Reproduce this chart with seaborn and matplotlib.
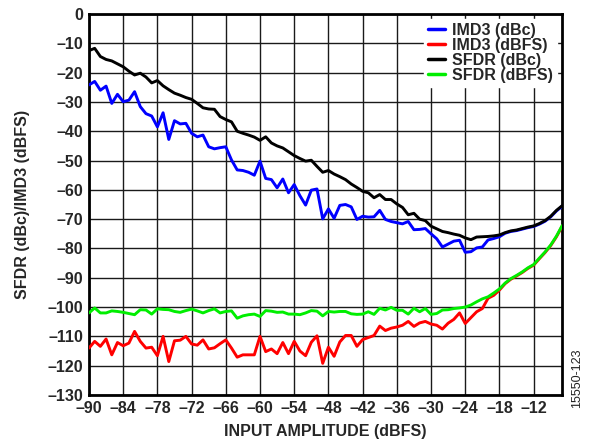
import numpy as np
import pandas as pd
import matplotlib
matplotlib.use("Agg")
import matplotlib.pyplot as plt
import seaborn as sns
from matplotlib.ticker import FuncFormatter

input_dbfs = list(range(-90, -6))  # -90 .. -7

sfdr_dbc = [-12.5, -11.7, -14.5, -15.5, -16.0, -17.0, -18.0, -19.5, -20.8, -20.2,
            -21.5, -23.5, -22.7, -24.5, -25.8, -27.0, -27.7, -28.5, -29.1, -30.5,
            -32.0, -32.4, -32.5, -35.0, -36.0, -36.8, -40.0, -40.7, -41.3, -42.0,
            -43.1, -41.9, -44.0, -45.0, -45.7, -47.0, -48.3, -49.3, -50.2, -49.9,
            -52.0, -54.0, -53.4, -54.6, -55.5, -56.5, -58.0, -59.2, -60.5, -61.0,
            -62.7, -61.6, -63.3, -63.3, -64.8, -66.0, -68.5, -68.0, -70.0, -70.5,
            -72.4, -73.3, -74.2, -74.6, -75.1, -75.5, -76.4, -77.0, -76.1, -76.0,
            -75.9, -75.7, -75.4, -74.6, -74.0, -73.7, -73.2, -72.7, -72.3, -71.5,
            -70.5, -69.0, -67.0, -65.4]

imd3_dbc = [-24.2, -23.0, -26.0, -24.6, -30.5, -27.4, -29.9, -29.4, -26.5, -31.6,
            -34.0, -34.8, -38.5, -33.7, -42.8, -36.4, -37.5, -37.3, -40.7, -41.9,
            -41.3, -45.3, -46.0, -45.6, -45.3, -49.8, -53.2, -53.4, -54.0, -55.0,
            -50.2, -56.1, -56.5, -59.3, -56.3, -61.0, -58.2, -62.0, -65.2, -60.1,
            -59.7, -69.9, -66.5, -69.7, -65.3, -65.0, -65.8, -70.1, -69.0, -69.3,
            -69.2, -67.0, -70.1, -70.8, -71.2, -71.6, -70.8, -73.6, -73.5, -73.2,
            -75.0, -76.7, -79.5, -78.5, -77.5, -77.2, -81.3, -81.1, -79.8, -79.5,
            -77.1, -76.6, -76.0, -74.8, -74.2, -73.9, -73.4, -72.9, -72.5, -71.7,
            -70.7, -69.2, -67.2, -65.6]

imd3_dbfs = [-114.0, -111.7, -113.4, -110.9, -116.3, -112.1, -113.2, -112.3, -108.3, -111.7,
             -114.0, -113.7, -116.6, -110.0, -118.6, -111.5, -111.3, -110.0, -112.6, -113.0,
             -111.2, -114.3, -113.9, -112.5, -111.2, -114.0, -117.1, -116.3, -116.3, -116.3,
             -110.0, -115.2, -114.3, -115.9, -112.1, -115.9, -111.7, -115.0, -116.6, -112.0,
             -109.8, -119.2, -113.7, -116.8, -111.9, -109.7, -109.7, -113.4, -111.1, -110.4,
             -109.7, -106.5, -108.0, -107.2, -106.8, -106.2, -104.9, -106.6, -105.4, -104.9,
             -105.8, -106.2, -107.5, -105.5, -104.2, -102.0, -105.6, -103.6, -101.6, -100.5,
             -97.0, -96.0, -94.2, -92.0, -90.5, -89.4, -88.2, -86.8, -85.7, -83.5,
             -81.4, -79.0, -76.0, -72.4]

sfdr_dbfs = [-102.0, -100.3, -102.0, -102.0, -101.3, -101.5, -101.8, -102.2, -102.6, -100.9,
             -101.0, -102.4, -100.6, -100.8, -100.9, -101.5, -101.8, -101.2, -100.7, -101.3,
             -102.0, -101.2, -100.6, -102.0, -101.5, -101.3, -103.8, -103.0, -102.6, -102.4,
             -103.2, -101.2, -101.4, -101.8, -101.7, -102.4, -102.4, -102.6, -102.0, -101.2,
             -101.4, -103.0, -101.5, -101.7, -101.5, -101.5, -102.3, -102.5, -102.4, -101.6,
             -102.5, -100.4, -101.0, -100.1, -101.1, -101.1, -102.4, -100.4, -101.6, -100.5,
             -102.5, -102.2, -101.0, -100.9, -100.5, -100.3, -100.0, -99.3, -98.2, -97.2,
             -96.5, -95.2, -93.8, -91.8, -90.3, -89.2, -88.0, -86.6, -85.5, -83.3,
             -81.2, -78.8, -75.8, -72.2]

series_names = ["IMD3 (dBc)", "IMD3 (dBFS)", "SFDR (dBc)", "SFDR (dBFS)"]
series_colors = ["#0000ff", "#ff0000", "#000000", "#00ee00"]
x_ticks = list(range(-90, -11, 6))
y_ticks = list(range(-130, 1, 10))

df = pd.concat([
    pd.DataFrame({"x": input_dbfs, "y": vals, "series": name})
    for name, vals in zip(series_names, [imd3_dbc, imd3_dbfs, sfdr_dbc, sfdr_dbfs])
])

sns.set_style("white")
plt.rcParams["font.family"] = ["Liberation Sans", "DejaVu Sans"]
plt.rcParams["font.weight"] = "bold"

FS = 11.5

fig = plt.figure(figsize=(5.9, 4.44), dpi=100)
ax = fig.add_axes([0.1508, 0.1104, 0.802, 0.858])

sns.lineplot(data=df, x="x", y="y", hue="series", hue_order=series_names,
             palette=dict(zip(series_names, series_colors)), linewidth=2.1,
             ax=ax, legend=True, zorder=3)

ax.set_xlim(-90, -7)
ax.set_ylim(-130, 0)
ax.set_xticks(x_ticks)
ax.set_yticks(y_ticks)
ax.grid(True, which="major", color="#1a1a1a", linewidth=1.0, zorder=0)
ax.set_axisbelow(True)

fmt = FuncFormatter(lambda v, p: ("\u2013%d" % abs(v)) if v < 0 else "%d" % v)
ax.xaxis.set_major_formatter(fmt)
ax.yaxis.set_major_formatter(fmt)
ax.tick_params(axis="both", length=0, labelsize=FS, pad=4)
for lbl in ax.get_xticklabels() + ax.get_yticklabels():
    lbl.set_fontweight("bold")

for sp in ax.spines.values():
    sp.set_visible(True)
    sp.set_color("black")
    sp.set_linewidth(2.0)

ax.set_xlabel("INPUT AMPLITUDE (dBFS)", fontsize=FS, fontweight="bold", labelpad=6)
ax.set_ylabel("SFDR (dBc)/IMD3 (dBFS)", fontsize=FS, fontweight="bold", labelpad=13)

handles, labels = ax.get_legend_handles_labels()
leg = ax.legend(handles, labels, loc="upper right", fontsize=FS, frameon=True,
                framealpha=1, edgecolor="white", facecolor="white",
                handlelength=1.1, handletextpad=0.45, labelspacing=0.0,
                borderpad=0.25, borderaxespad=0.3, fancybox=False)
for t in leg.get_texts():
    t.set_fontweight("bold")
for h in leg.get_lines():
    h.set_linewidth(2.5)
leg.set_zorder(5)

fig.text(0.978, 0.082, "15550-123", rotation=90, fontsize=9, fontweight="normal",
         ha="center", va="bottom", color="#222222")

fig.savefig("out.png", dpi=100)
